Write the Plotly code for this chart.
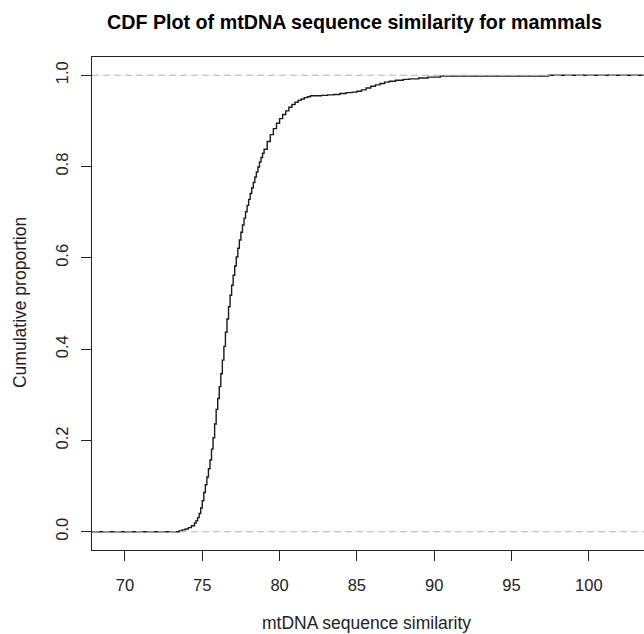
import plotly.graph_objects as go

# ECDF knots (similarity %, cumulative proportion)
similarity = [
    65.0, 73.5, 73.7, 73.9, 74.1, 74.3, 74.5,
    74.6, 74.7, 74.8, 74.9, 75.0, 75.1, 75.2, 75.3, 75.4, 75.5,
    75.6, 75.7, 75.8, 75.9, 76.0, 76.1, 76.2, 76.3, 76.4, 76.5,
    76.6, 76.7, 76.8, 76.9, 77.0, 77.1, 77.2, 77.3, 77.4, 77.5,
    77.6, 77.7, 77.8, 77.9, 78.0, 78.1, 78.2, 78.3, 78.4, 78.5,
    78.6, 78.7, 78.8, 78.9, 79.0,
    79.2, 79.4, 79.6, 79.8, 80.0, 80.2, 80.4, 80.6, 80.8, 81.0,
    81.2, 81.4, 81.6, 81.8, 82.0, 82.3, 82.7, 83.1, 83.5, 83.9,
    84.3, 84.7, 85.0, 85.3, 85.6, 85.9, 86.2, 86.5, 86.8, 87.1,
    87.5, 88.0, 88.4, 89.0, 89.6, 90.4, 97.4, 110.0,
]
cum_prop = [
    0.000, 0.002, 0.004, 0.006, 0.009, 0.013, 0.019,
    0.024, 0.031, 0.040, 0.052, 0.068, 0.086, 0.103, 0.120, 0.138, 0.157,
    0.181, 0.206, 0.236, 0.268, 0.292, 0.318, 0.346, 0.376, 0.406, 0.437,
    0.466, 0.493, 0.518, 0.540, 0.562, 0.582, 0.602, 0.621, 0.639, 0.656,
    0.672, 0.687, 0.701, 0.715, 0.728, 0.741, 0.753, 0.765, 0.777, 0.788,
    0.799, 0.810, 0.820, 0.829, 0.838,
    0.855, 0.870, 0.883, 0.895, 0.905, 0.914, 0.922, 0.930, 0.936, 0.941,
    0.945, 0.948, 0.951, 0.953, 0.955, 0.955, 0.956, 0.957, 0.958, 0.960,
    0.962, 0.963, 0.965, 0.968, 0.972, 0.976, 0.979, 0.982, 0.985, 0.987,
    0.989, 0.991, 0.992, 0.994, 0.996, 0.998, 1.000, 1.000,
]

x_ticks = [70, 75, 80, 85, 90, 95, 100]
y_ticks = [0.0, 0.2, 0.4, 0.6, 0.8, 1.0]
y_tick_labels = ["0.0", "0.2", "0.4", "0.6", "0.8", "1.0"]
ref_levels = [0.0, 1.0]

FONT = "Liberation Sans, Arial, sans-serif"
INK = "#222222"

fig = go.Figure()
fig.add_trace(go.Scatter(
    x=similarity, y=cum_prop, mode="lines",
    line=dict(shape="hv", color="#1a1a1a", width=1.4),
    showlegend=False, hoverinfo="skip",
))

for lvl in ref_levels:
    fig.add_shape(type="line", xref="paper", x0=0, x1=1, yref="y", y0=lvl, y1=lvl,
                  line=dict(color="#b4b4b4", width=1, dash="7px,4px"), layer="above")

fig.update_layout(
    width=644, height=634,
    margin=dict(l=92, r=0, t=57, b=84),
    paper_bgcolor="white", plot_bgcolor="white",
    font=dict(family=FONT, size=16.5, color=INK),
    xaxis=dict(
        range=[67.87, 103.57], tickvals=x_ticks, ticks="outside", ticklen=10,
        tickcolor=INK, showline=True, linecolor=INK, linewidth=1, mirror=True,
        showgrid=False, zeroline=False, tickfont=dict(size=16.5, color=INK),
        ticklabelstandoff=10,
    ),
    yaxis=dict(
        range=[-0.04, 1.04], tickvals=y_ticks, ticktext=y_tick_labels, tickangle=-90,
        ticks="outside", ticklen=10, tickcolor=INK, showline=True, linecolor=INK,
        linewidth=1, showgrid=False, zeroline=False, tickfont=dict(size=16.5, color=INK),
        ticklabelstandoff=6,
    ),
    annotations=[
        dict(text="<b>CDF Plot of mtDNA sequence similarity for mammals</b>",
             xref="paper", yref="paper", x=0.4764, y=1.071, showarrow=False,
             font=dict(size=19.7, color="black", family=FONT), xanchor="center", yanchor="middle"),
        dict(text="mtDNA sequence similarity", xref="paper", yref="paper",
             x=0.498, y=-0.148, showarrow=False, xanchor="center", yanchor="middle",
             font=dict(size=17.5, color=INK, family=FONT)),
        dict(text="Cumulative proportion", xref="paper", yref="paper",
             x=-0.1304, y=0.501, showarrow=False, textangle=-90, xanchor="center",
             yanchor="middle", font=dict(size=17.5, color=INK, family=FONT)),
    ],
)

fig.write_html(
    "out.html",
    config={"displayModeBar": False, "staticPlot": True},
    post_script="document.body.style.margin='0';document.body.style.overflow='hidden';",
)
